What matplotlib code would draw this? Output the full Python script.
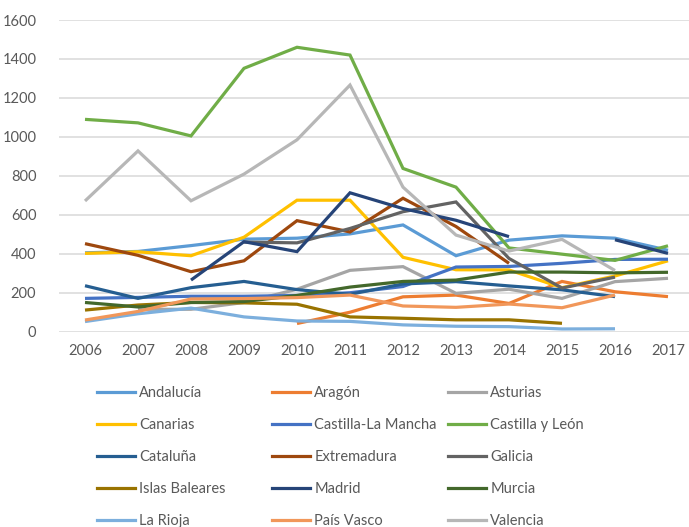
import numpy as np
import matplotlib as mpl
mpl.use('Agg')
import matplotlib.pyplot as plt
from matplotlib.lines import Line2D

plt.rcParams['font.family'] = ['Lato', 'DejaVu Sans']

years = list(range(2006, 2018))
nan = np.nan

# one list per region, 2006..2017 (nan where there is no figure)
andalucia   = [405, 412, 442, 475, 480, 502, 548, 390, 470, 492, 480, 418]
aragon      = [nan, nan, nan, nan, 42, 100, 179, 188, 145, 258, 205, 180]
asturias    = [nan, 115, 115, 150, 218, 315, 334, 197, 218, 171, 257, 274]
canarias    = [402, 410, 390, 485, 675, 675, 382, 318, 317, 226, 286, 364]
cast_mancha = [171, 176, 182, 182, 186, 200, 232, 332, 335, 351, 371, 372]
cast_leon   = [1090, 1072, 1005, 1352, 1460, 1420, 838, 742, 430, 398, 366, 441]
cataluna    = [236, 171, 226, 258, 216, 192, 245, 257, 235, 215, 180, nan]
extremadura = [452, 392, 308, 364, 570, 512, 685, 540, 351, nan, nan, nan]
galicia     = [nan, nan, nan, 460, 456, 530, 616, 666, 376, 224, 280, nan]
baleares    = [111, 137, 150, 148, 141, 76, 69, 61, 61, 43, nan, nan]
madrid      = [nan, nan, 265, 462, 411, 713, 632, 572, 488, nan, 472, 402]
murcia      = [150, 127, 150, 155, 186, 229, 258, 265, 306, 306, 302, 305]
la_rioja    = [52, 92, 121, 76, 55, 53, 35, 28, 26, 14, 15, nan]
pais_vasco  = [60, 104, 168, 170, 175, 188, 132, 125, 142, 123, 188, nan]
valencia    = [671, 928, 672, 809, 985, 1266, 742, 496, 414, 474, 314, nan]

names = ['Andalucía', 'Aragón', 'Asturias', 'Canarias', 'Castilla-La Mancha',
         'Castilla y León', 'Cataluña', 'Extremadura', 'Galicia',
         'Islas Baleares', 'Madrid', 'Murcia', 'La Rioja', 'País Vasco',
         'Valencia']
series = [andalucia, aragon, asturias, canarias, cast_mancha, cast_leon,
          cataluna, extremadura, galicia, baleares, madrid, murcia,
          la_rioja, pais_vasco, valencia]
colors = ['#5B9BD5', '#ED7D31', '#A5A5A5', '#FFC000', '#4472C4', '#70AD47',
          '#255E91', '#9E480E', '#636363', '#997300', '#264478', '#43682B',
          '#7CAFDD', '#F1975A', '#B7B7B7']

W, H = 689, 527
fig = plt.figure(figsize=(W / 100, H / 100), dpi=100)
# plot area runs a little past the right edge, like the cropped original
ax = fig.add_axes([58.5 / W, 1 - 331.7 / H, 636 / W, (331.7 - 20) / H])

x = np.arange(len(years))
for vals, c in zip(series, colors):
    ax.plot(x, vals, color=c, lw=2.3, solid_capstyle='butt',
            solid_joinstyle='miter', zorder=3)

ax.set_xlim(-0.5, len(years) - 0.5)
ax.set_ylim(0, 1600)
ax.set_yticks(range(0, 1601, 200))
ax.set_xticks(x)
ax.set_xticklabels([str(y) for y in years])
ax.yaxis.grid(True, color='#D9D9D9', lw=1.1)
ax.set_axisbelow(True)
for s in ax.spines.values():
    s.set_visible(False)
ax.tick_params(length=0, labelsize=10.5, colors='#595959', pad=16)
ax.tick_params(axis='x', pad=9)

# legend: three equal-width columns, filled row by row
col_x = [97, 272, 448]
for c in range(3):
    idx = list(range(c, len(names), 3))
    handles = [Line2D([], [], color=colors[i], lw=2.3) for i in idx]
    leg = fig.legend(handles, [names[i] for i in idx], loc='upper left',
                     bbox_to_anchor=(col_x[c] / W, 1 - 386 / H),
                     frameon=False, fontsize=10.5, handlelength=2.6,
                     handletextpad=0.3, labelspacing=1.23, borderaxespad=0,
                     borderpad=0)
    for t in leg.get_texts():
        t.set_color('#595959')

fig.savefig('out.png', dpi=100)
